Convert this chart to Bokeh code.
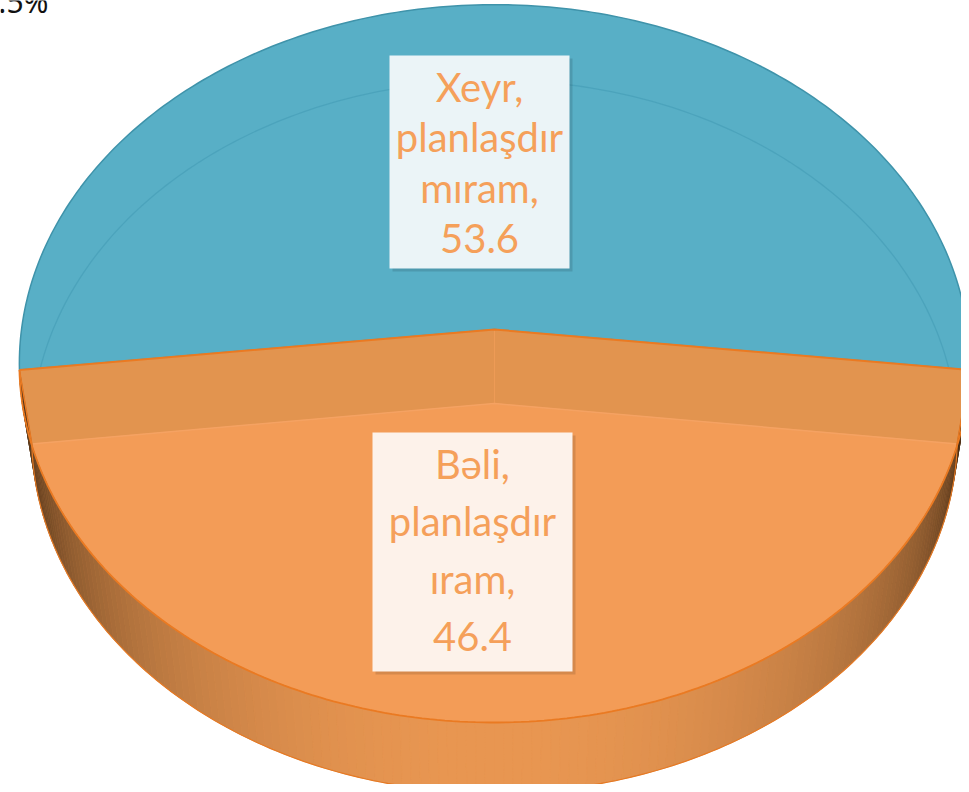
import numpy as np
from bokeh.plotting import figure
from bokeh.models import Range1d
from bokeh.core.properties import value
from bokeh.embed import file_html
from bokeh.resources import INLINE

# ---------------- data ----------------
categories = ["Xeyr, planlaşdırmıram", "Bəli, planlaşdırıram"]
values = [53.6, 46.4]
corner_text = "3.5%"

# ---------------- style / geometry ----------------
FACE_BLUE = "#58AFC6"
EDGE_BLUE = "#3F93AA"
INNER_BLUE = "#4AA2BA"
FLOOR_ORANGE = "#F39C57"
WALL_ORANGE = "#E2944F"
EDGE_ORANGE = "#EA7A22"
TEXT_ORANGE = "#F5A05A"
SIDE_BASE = np.array([233, 151, 82])
SIDE_DARK = np.array([40, 25, 10])

CX, CY = 494.0, 329.0          # projected pie centre (top face)
F = 473.0                      # focal scale
SIN, COS = 0.752, 0.659        # view elevation
DN = 6.94                      # camera distance (in radii)
H = 0.244                      # pie height (in radii)

TEXT_SHIFT = -17               # baseline correction for the text glyph
label_boxes = [  # left, right, top, bottom, first baseline, line step
    (389, 569, 55, 268, 103, 50.5),
    (372, 572, 432, 671, 480, 57.7),
]
box_fills = ["#EBF4F7", "#FDF2EA"]


def proj(X, Y, Z):
    X = np.asarray(X, float); Y = np.asarray(Y, float); Z = np.asarray(Z, float)
    w = 1 + (Y * COS - Z * SIN) / DN
    return CX + F * X / w, CY - F * (Y * SIN + Z * COS) / w


def rim(a0, a1, Z, n=200):
    ph = np.radians(np.linspace(a0, a1, n))
    return proj(np.cos(ph), np.sin(ph), np.full(n, Z))


total = sum(values)
spans = [360.0 * v / total for v in values]
b0 = 90.0 - spans[0] / 2
b1 = b0 + spans[0]
o0 = b1
o1 = b0 + 360.0

p = figure(width=961, height=784, x_range=Range1d(0, 961), y_range=Range1d(784, 0),
           toolbar_location=None, output_backend="svg", x_axis_type=None, y_axis_type=None,
           min_border=0, outline_line_color=None, background_fill_color="white")
p.grid.visible = False

# ---- blue slice top face ----
rx, ry = rim(b0, b1, 0.0)
p.patch(np.r_[CX, rx], np.r_[CY, ry], fill_color=FACE_BLUE, line_color=EDGE_BLUE, line_width=1.5)
ix, iy = rim(b0, b1, -H)
p.line(ix, iy, line_color=INNER_BLUE, line_width=1.3, line_alpha=0.9)

# ---- orange slice: floor ----
fx, fy = rim(o0, o1, -H)
abx, aby = proj(0, 0, -H)
p.patch(np.r_[abx, fx], np.r_[aby, fy], fill_color=FLOOR_ORANGE, line_color=None)

# ---- orange slice: inner cut walls ----
for a in (o0, o1):
    ca, sa = np.cos(np.radians(a)), np.sin(np.radians(a))
    tx, ty = proj(ca, sa, 0.0)
    bx, by = proj(ca, sa, -H)
    p.patch([CX, float(tx), float(bx), float(abx)], [CY, float(ty), float(by), float(aby)],
            fill_color=WALL_ORANGE, line_color="#EE9B56", line_width=1)
lx, ly = proj(np.cos(np.radians(o0)), np.sin(np.radians(o0)), -H)
rrx, rry = proj(np.cos(np.radians(o1)), np.sin(np.radians(o1)), -H)
p.line([float(lx), float(abx), float(rrx)], [float(ly), float(aby), float(rry)],
       line_color="#F5A262", line_width=1.5)

# ---- orange slice: outer front wall with shading ----
N = 160
ph = np.linspace(o0, o1, N + 1)
xs, ys, cols = [], [], []
for i in range(N):
    a, b = np.radians(ph[i]), np.radians(ph[i + 1])
    t1x, t1y = proj([np.cos(a), np.cos(b)], [np.sin(a), np.sin(b)], [0, 0])
    b1x, b1y = proj([np.cos(b), np.cos(a)], [np.sin(b), np.sin(a)], [-H, -H])
    xs.append(list(t1x) + list(b1x))
    ys.append(list(t1y) + list(b1y))
    mid = (a + b) / 2
    facing = max(-np.sin(mid), 0.0)
    f = facing ** 0.9
    c = (SIDE_DARK * (1 - f) + SIDE_BASE * f).astype(int)
    cols.append("#%02x%02x%02x" % tuple(c))
p.patches(xs, ys, fill_color=cols, line_color=cols, line_width=0.6)

# edges of the orange slice
tx0, ty0 = rim(o0, o1, 0.0)
p.line(tx0, ty0, line_color=EDGE_ORANGE, line_width=1.8)
p.line(fx, fy, line_color="#E57A25", line_width=1.2)
for a in (o0, o1):
    ca, sa = np.cos(np.radians(a)), np.sin(np.radians(a))
    ex, ey = proj([ca, ca], [sa, sa], [0, -H])
    p.line(ex, ey, line_color=EDGE_ORANGE, line_width=1.5)
ra_x, ra_y = proj(np.cos(np.radians(o0)), np.sin(np.radians(o0)), 0)
rb_x, rb_y = proj(np.cos(np.radians(o1)), np.sin(np.radians(o1)), 0)
p.line([float(ra_x), CX, float(rb_x)], [float(ra_y), CY, float(rb_y)],
       line_color=EDGE_ORANGE, line_width=2)


# ---- data labels ----
def wrap(label, width=10):
    out = []
    for tok in label.split(" "):
        while len(tok) > width:
            out.append(tok[:width]); tok = tok[width:]
        out.append(tok)
    return out


for cat, v, box, fill in zip(categories, values, label_boxes, box_fills):
    L, R, T, B, base, step = box
    p.quad(left=[L + 3], right=[R + 3], top=[T + 3], bottom=[B + 3],
           fill_color="black", fill_alpha=0.12, line_color=None)
    p.quad(left=[L], right=[R], top=[T], bottom=[B], fill_color=fill, line_color=None)
    lines = wrap(f"{cat}, {v:.1f}")
    xc = (L + R) / 2
    p.text(x=[xc] * len(lines), y=[base + TEXT_SHIFT + k * step for k in range(len(lines))],
           text=lines, text_font=value("Lato"), text_font_size="40px", text_color=TEXT_ORANGE,
           text_align="center", text_baseline="alphabetic")

# stray corner text (cut off at the page edge, as in the source)
p.text(x=[48], y=[13 + TEXT_SHIFT * 0.7], text=[corner_text], text_font=value("Noto Sans"),
       text_font_size="30px", text_color="#111111", text_align="right",
       text_baseline="alphabetic")

open("out.html", "w").write(file_html(p, INLINE))
